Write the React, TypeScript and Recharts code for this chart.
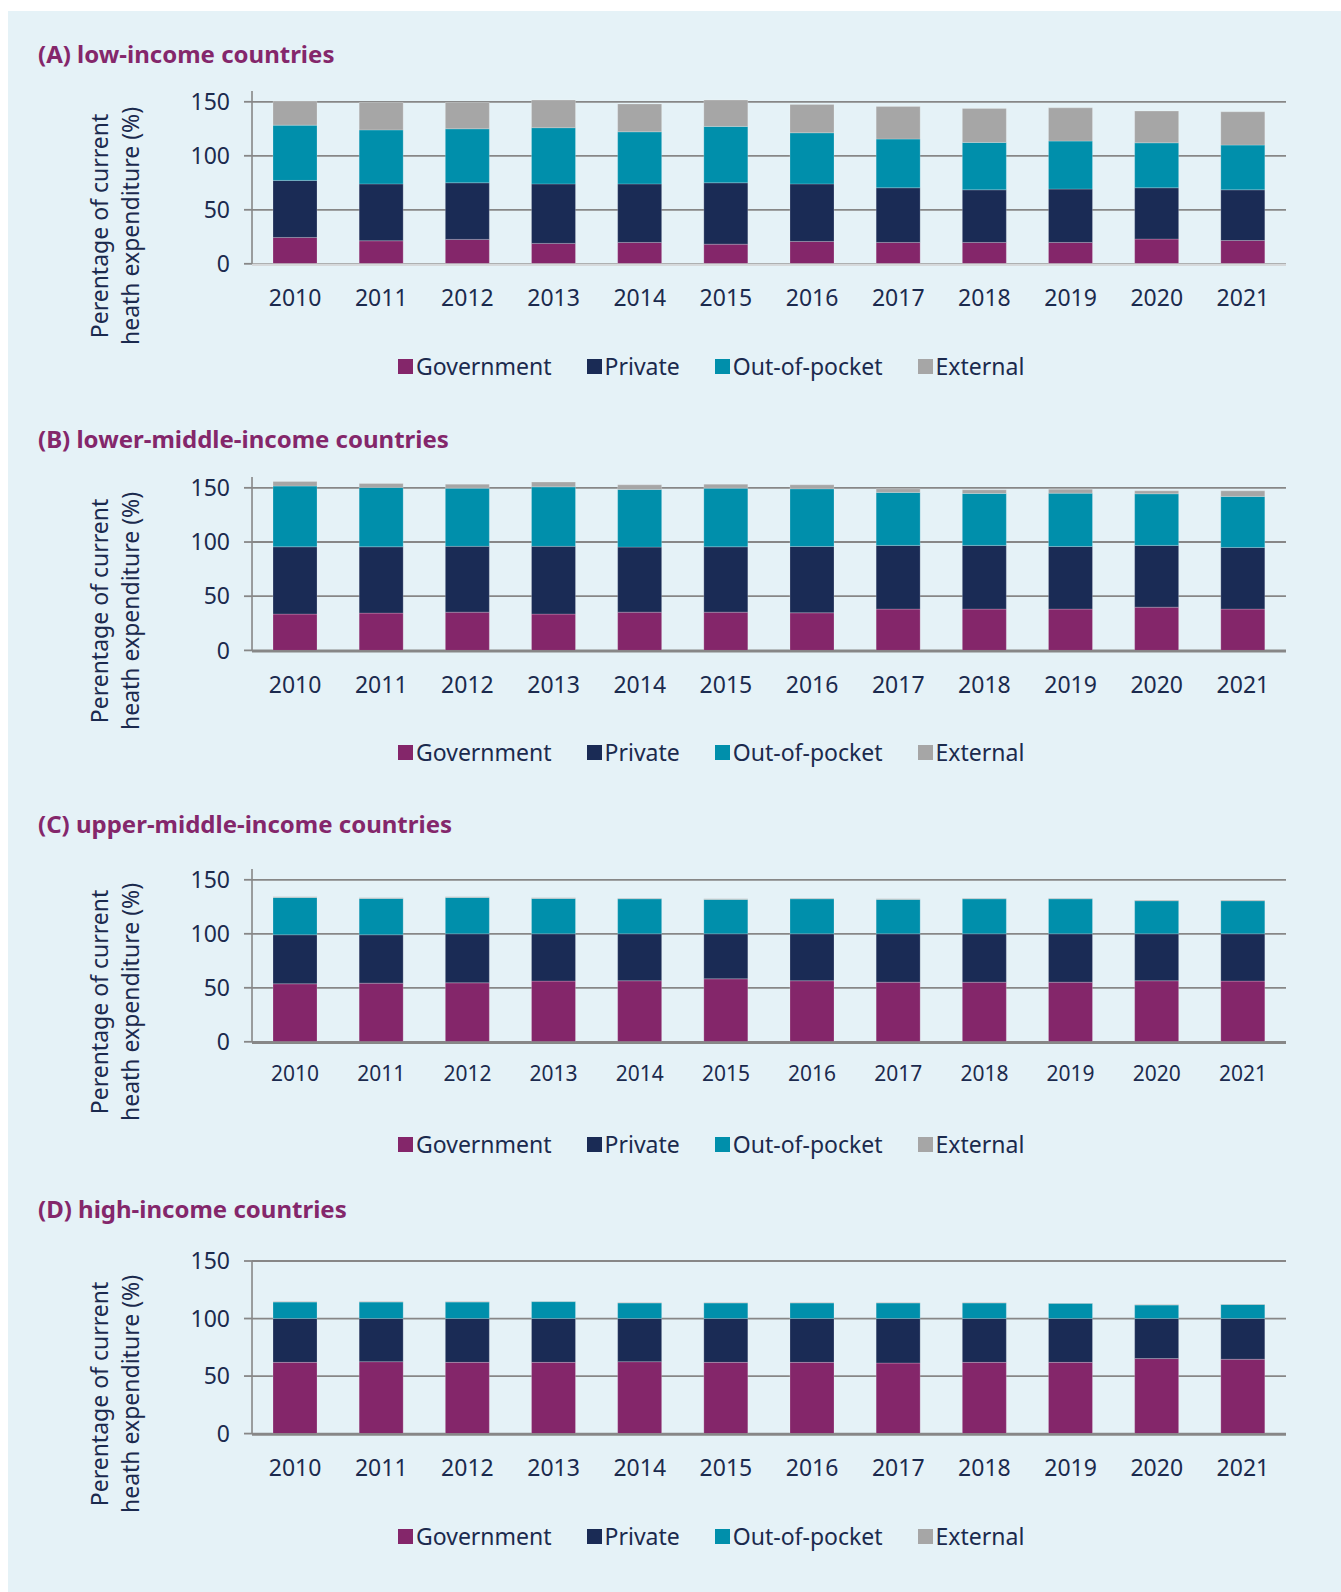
import { BarChart, Bar, XAxis, YAxis, CartesianGrid } from "recharts";

const years = ["2010", "2011", "2012", "2013", "2014", "2015", "2016", "2017", "2018", "2019", "2020", "2021"];
const yTicks = [0, 50, 100, 150];
const edgeTicks = [0, 1, 2, 3, 4, 5, 6, 7, 8, 9, 10, 11, 12];

// (A) low-income
const lowGov = [24.4, 21.3, 22.6, 18.9, 19.8, 18.2, 20.7, 19.8, 19.8, 19.8, 22.9, 21.6];
const lowPrivate = [52.8, 52.7, 52.4, 55.1, 54.2, 56.8, 53.3, 50.6, 48.7, 49.4, 47.5, 46.9];
const lowOop = [51.2, 50.0, 50.0, 52.0, 48.2, 52.2, 47.3, 45.1, 43.9, 44.4, 41.6, 41.4];
const lowExt = [22.0, 25.4, 24.4, 25.6, 25.8, 24.4, 26.3, 30.2, 31.5, 30.8, 29.4, 30.8];

// (B) lower-middle-income
const lmGov = [33.5, 34.4, 35.3, 33.5, 35.3, 35.3, 34.7, 38.1, 38.1, 38.1, 39.9, 38.1];
const lmPrivate = [62.1, 61.2, 60.7, 62.5, 60.0, 60.3, 61.2, 58.8, 58.8, 57.8, 57.0, 56.9];
const lmOop = [56.0, 54.8, 53.7, 54.9, 53.2, 54.1, 53.2, 48.9, 47.9, 49.2, 47.6, 47.1];
const lmExt = [4.3, 3.6, 3.7, 4.4, 4.3, 3.7, 3.7, 3.3, 3.4, 3.7, 2.7, 5.1];

// (C) upper-middle-income
const umGov = [53.7, 54.3, 54.6, 56.2, 56.5, 58.3, 56.5, 55.2, 55.2, 55.2, 56.5, 56.2];
const umPrivate = [45.4, 44.8, 45.4, 43.8, 43.5, 41.7, 43.5, 44.8, 44.8, 44.8, 43.5, 43.8];
const umOop = [34.5, 33.6, 33.6, 32.7, 32.4, 31.8, 32.4, 31.8, 32.4, 32.4, 30.6, 30.6];
const umExt = [0.6, 0.6, 0.6, 0.6, 0.6, 0.6, 0.6, 0.6, 0.6, 0.6, 0.6, 0.6];

// (D) high-income
const hiGov = [61.9, 62.5, 61.9, 61.9, 62.5, 61.9, 61.9, 61.3, 61.9, 61.9, 65.2, 64.6];
const hiPrivate = [38.1, 37.5, 38.1, 38.1, 37.5, 38.1, 38.1, 38.7, 38.1, 38.1, 34.8, 35.4];
const hiOop = [14.3, 14.3, 14.3, 14.7, 13.5, 13.5, 13.5, 13.5, 13.5, 13.2, 11.7, 12.3];
const hiExt = [0.4, 0.4, 0.4, 0.4, 0.4, 0.4, 0.4, 0.4, 0.4, 0.4, 0.4, 0.4];

const COLORS = {
  gov: "#84266a",
  private: "#1a2b55",
  oop: "#008fab",
  ext: "#a6a6a6",
};
const TEXT = "#1b2a4e";
const TITLE = "#84276b";
const GRID = "#878787";
const FONT = "'Noto Sans', sans-serif";

const legendItems = [
  { key: "gov", label: "Government" },
  { key: "private", label: "Private" },
  { key: "oop", label: "Out-of-pocket" },
  { key: "ext", label: "External" },
];

function buildRows(gov: number[], priv: number[], oop: number[], ext: number[]) {
  return years.map((year, i) => ({ year, gov: gov[i], private: priv[i], oop: oop[i], ext: ext[i] }));
}

interface PanelProps {
  title: string;
  rows: ReturnType<typeof buildRows>;
  plotTop: number;
  zeroY: number;
  yMax: number;
  titleY: number;
  labelY: number;
  legendY: number;
  yearFont: number;
  yearMargin: number;
  edgeTicksOn: boolean;
}

function Panel({ title, rows, plotTop, zeroY, yMax, titleY, labelY, legendY, yearFont, yearMargin, edgeTicksOn }: PanelProps) {
  const plotH = zeroY - plotTop;
  const topPad = 24;
  const bottomPad = 80;
  return (
    <>
      <div
        style={{
          position: "absolute",
          left: 38,
          top: titleY - 17,
          height: 34,
          lineHeight: "34px",
          fontFamily: FONT,
          fontWeight: 700,
          fontSize: 24,
          color: TITLE,
          whiteSpace: "nowrap",
        }}
      >
        {title}
      </div>
      <div
        style={{
          position: "absolute",
          left: 114,
          top: labelY,
          transform: "translate(-50%, -50%) rotate(-90deg)",
          fontFamily: FONT,
          fontSize: 23,
          lineHeight: "30.5px",
          color: TEXT,
          textAlign: "center",
          whiteSpace: "nowrap",
        }}
      >
        Perentage of current
        <br />
        heath expenditure (%)
      </div>
      <div style={{ position: "absolute", left: 0, top: plotTop - topPad }}>
        <BarChart
          width={1341}
          height={topPad + plotH + bottomPad}
          data={rows}
          margin={{ top: topPad, right: 55, bottom: bottomPad - 2, left: 192 }}
        >
          <CartesianGrid horizontal vertical={false} syncWithTicks stroke={GRID} strokeWidth={1.8} />
          <XAxis
            xAxisId="edge"
            type="number"
            domain={[0, 12]}
            ticks={edgeTicks}
            interval={0}
            allowDataOverflow
            height={1}
            tick={false}
            tickSize={8}
            tickLine={edgeTicksOn ? { stroke: GRID, strokeWidth: 1.5 } : false}
            axisLine={{ stroke: edgeTicksOn ? GRID : "#d6d9db", strokeWidth: 2.4 }}
          />
          <XAxis
            xAxisId="cat"
            dataKey="year"
            height={1}
            axisLine={false}
            tickLine={false}
            tickSize={0}
            tickMargin={yearMargin}
            interval={0}
            tick={{ fill: TEXT, fontSize: yearFont, fontFamily: FONT }}
          />
          <YAxis
            width={60}
            domain={[0, yMax]}
            ticks={yTicks}
            interval={0}
            allowDataOverflow
            tickSize={8}
            tickMargin={14}
            axisLine={{ stroke: GRID, strokeWidth: 1.6 }}
            tickLine={{ stroke: GRID, strokeWidth: 1.8 }}
            tick={{ fill: TEXT, fontSize: 23, fontFamily: FONT }}
          />
          {legendItems.map((item) => (
            <Bar
              key={item.key}
              xAxisId="cat"
              dataKey={item.key}
              stackId="a"
              fill={COLORS[item.key as keyof typeof COLORS]}
              stroke="rgba(255,255,255,0.35)"
              strokeWidth={0.6}
              barSize={44}
              isAnimationActive={false}
            />
          ))}
        </BarChart>
      </div>
      <div
        style={{
          position: "absolute",
          left: 398,
          top: legendY - 16,
          height: 32,
          display: "flex",
          alignItems: "center",
          gap: 35,
          fontFamily: FONT,
          fontSize: 23,
          color: TEXT,
          whiteSpace: "nowrap",
        }}
      >
        {legendItems.map((item) => (
          <div key={item.key} style={{ display: "flex", alignItems: "center" }}>
            <span
              style={{
                display: "inline-block",
                width: 15,
                height: 15,
                marginRight: 3,
                background: COLORS[item.key as keyof typeof COLORS],
              }}
            />
            <span>{item.label}</span>
          </div>
        ))}
      </div>
    </>
  );
}

export default function App() {
  return (
    <div style={{ position: "absolute", left: 0, top: 0, width: 1341, height: 1592, background: "#ffffff" }}>
      <div style={{ position: "absolute", left: 8, top: 11, right: 0, bottom: 0, background: "#e5f2f7" }} />
      <Panel
        title="(A) low-income countries"
        rows={buildRows(lowGov, lowPrivate, lowOop, lowExt)}
        plotTop={90.9}
        zeroY={263.7}
        yMax={160}
        titleY={54}
        labelY={226}
        legendY={366}
        yearFont={23}
        yearMargin={26}
        edgeTicksOn={false}
      />
      <Panel
        title="(B) lower-middle-income countries"
        rows={buildRows(lmGov, lmPrivate, lmOop, lmExt)}
        plotTop={476.9}
        zeroY={650.3}
        yMax={160}
        titleY={438.5}
        labelY={611}
        legendY={752}
        yearFont={23}
        yearMargin={26.5}
        edgeTicksOn
      />
      <Panel
        title="(C) upper-middle-income countries"
        rows={buildRows(umGov, umPrivate, umOop, umExt)}
        plotTop={869.2}
        zeroY={1042}
        yMax={160}
        titleY={824}
        labelY={1002}
        legendY={1144}
        yearFont={21}
        yearMargin={24}
        edgeTicksOn
      />
      <Panel
        title="(D) high-income countries"
        rows={buildRows(hiGov, hiPrivate, hiOop, hiExt)}
        plotTop={1260.7}
        zeroY={1433.3}
        yMax={150}
        titleY={1209}
        labelY={1394}
        legendY={1536}
        yearFont={23}
        yearMargin={26.3}
        edgeTicksOn
      />
    </div>
  );
}
